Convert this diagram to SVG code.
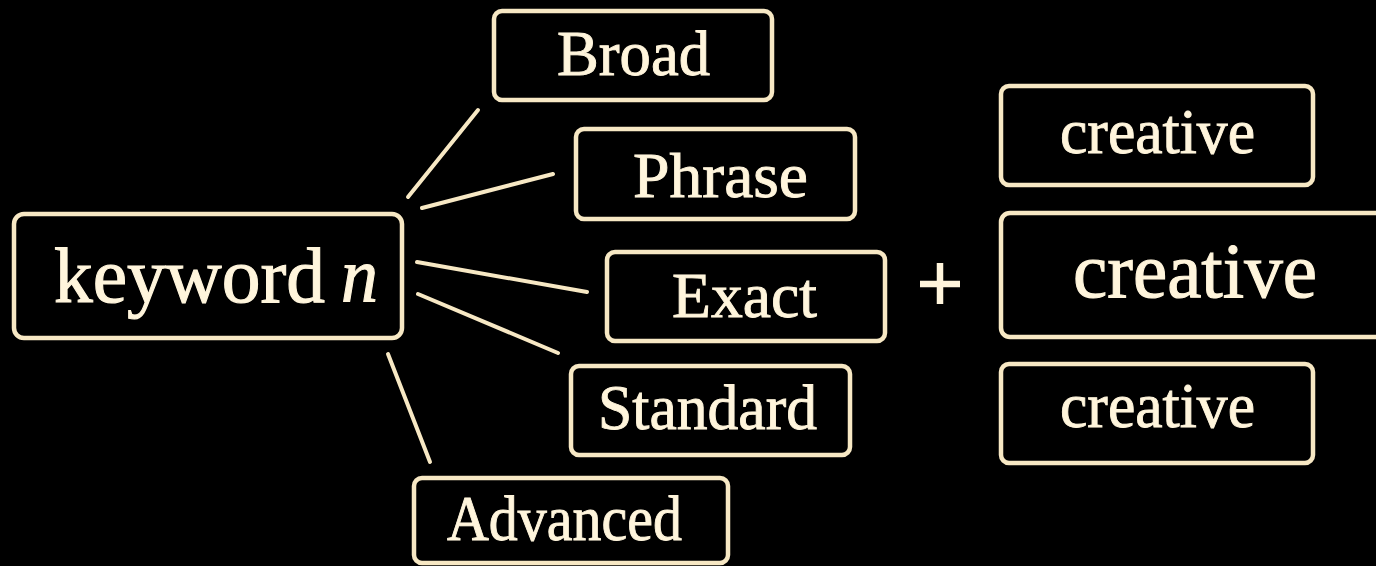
<svg xmlns="http://www.w3.org/2000/svg" width="1376" height="566" viewBox="0 0 1376 566">
  <style>
    .box { fill: #000; stroke: #F7E8C4; stroke-width: 4.5; }
    .lbl { fill: #FFF5DC; stroke: #FFF5DC; stroke-width: 0.9; font-family: "Liberation Serif", "DejaVu Serif", serif; font-size: 63px; }
    .big { font-size: 78px; stroke-width: 1.1; }
    .link { stroke: #F7E8C4; stroke-width: 4; stroke-linecap: round; fill: none; }
  </style>
  <rect width="1376" height="566" fill="#000"/>

  <!-- links from the keyword to each match type -->
  <g id="connectors">
    <line class="link" x1="478" y1="110" x2="408" y2="197"/>
    <line class="link" x1="553" y1="174" x2="422" y2="208"/>
    <line class="link" x1="417" y1="262" x2="587" y2="292"/>
    <line class="link" x1="418" y1="294" x2="558" y2="353"/>
    <line class="link" x1="388" y1="354" x2="430" y2="462"/>
  </g>

  <g id="keyword">
    <rect class="box" x="14" y="214" width="388" height="124" rx="10"/>
    <text class="lbl big" x="54" y="302" textLength="271" lengthAdjust="spacingAndGlyphs">keyword</text>
    <text class="lbl big" x="341" y="302" font-style="italic" textLength="37" lengthAdjust="spacingAndGlyphs">n</text>
  </g>

  <g id="broad">
    <rect class="box" x="494" y="11" width="278" height="89" rx="8"/>
    <text class="lbl" x="557" y="75" textLength="153" lengthAdjust="spacingAndGlyphs">Broad</text>
  </g>

  <g id="phrase">
    <rect class="box" x="576" y="129" width="279" height="90" rx="8"/>
    <text class="lbl" x="633" y="197" textLength="175" lengthAdjust="spacingAndGlyphs">Phrase</text>
  </g>

  <g id="exact">
    <rect class="box" x="607" y="252" width="278" height="89" rx="8"/>
    <text class="lbl" x="672" y="317" textLength="145" lengthAdjust="spacingAndGlyphs">Exact</text>
  </g>

  <g id="standard">
    <rect class="box" x="571" y="366" width="279" height="89" rx="8"/>
    <text class="lbl" x="598" y="429" textLength="219" lengthAdjust="spacingAndGlyphs">Standard</text>
  </g>

  <g id="advanced">
    <rect class="box" x="414" y="478" width="314" height="85" rx="8"/>
    <text class="lbl" x="447" y="540" textLength="235" lengthAdjust="spacingAndGlyphs">Advanced</text>
  </g>

  <!-- plus sign -->
  <g id="plus" stroke="#FFF5DC" stroke-width="6.5">
    <line x1="920" y1="284" x2="960" y2="284"/>
    <line x1="940" y1="263" x2="940" y2="304"/>
  </g>

  <g id="creative-top">
    <rect class="box" x="1001" y="86" width="312" height="99" rx="8"/>
    <text class="lbl" x="1060" y="153" textLength="195" lengthAdjust="spacingAndGlyphs">creative</text>
  </g>

  <g id="creative-mid">
    <rect class="box" x="1001" y="213" width="400" height="124" rx="9"/>
    <text class="lbl big" x="1073" y="297" textLength="244" lengthAdjust="spacingAndGlyphs">creative</text>
  </g>

  <g id="creative-bottom">
    <rect class="box" x="1001" y="364" width="312" height="99" rx="8"/>
    <text class="lbl" x="1060" y="427" textLength="195" lengthAdjust="spacingAndGlyphs">creative</text>
  </g>
</svg>
